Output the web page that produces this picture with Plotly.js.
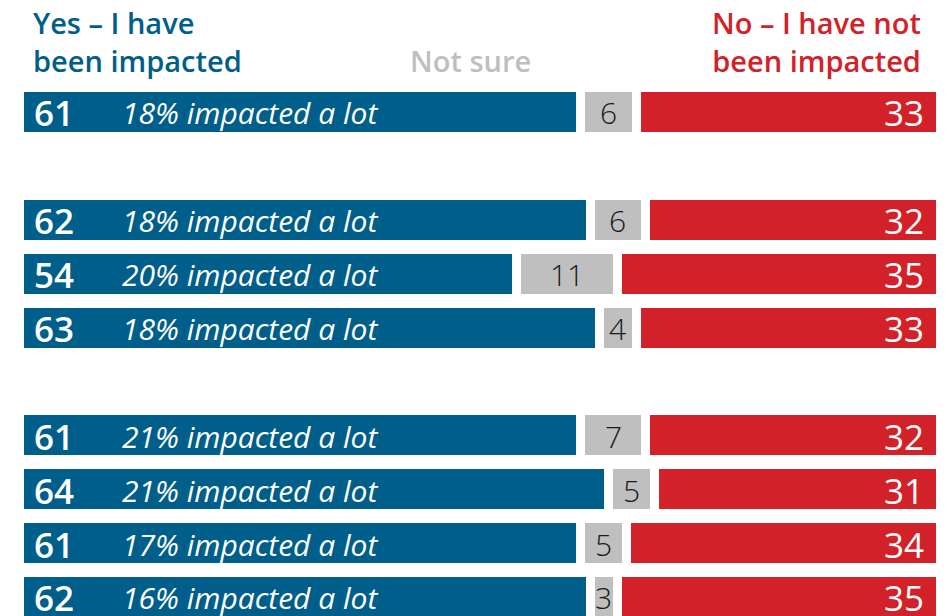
<!DOCTYPE html>
<html>
<head>
<meta charset="utf-8">
<script src="https://cdn.plot.ly/plotly-3.0.1.min.js"></script>
<style>html,body{margin:0;padding:0;background:#fff;}#chart{width:947px;height:616px;}</style>
</head>
<body>
<div id="chart"></div>
<script>
// Row positions (gaps between groups leave empty slots)
const rowPos = [0, 2, 3, 4, 6, 7, 8, 9];
const yesVals = [61, 62, 54, 63, 61, 64, 61, 62];
const notSureVals = [6, 6, 11, 4, 7, 5, 5, 3];
const noVals = [33, 32, 35, 33, 32, 31, 34, 35];
const aLotVals = [18, 18, 20, 18, 21, 21, 17, 16];

const BLUE = '#005e8a', GRAY = '#bfbfbf', RED = '#d32129';
const FONT = '"Open Sans", Lato, sans-serif';

const common = {type: 'bar', orientation: 'h', y: rowPos, width: 0.91,
  hoverinfo: 'skip', textposition: 'none'};

const traces = [
  Object.assign({}, common, {x: yesVals, name: 'Yes', marker: {color: BLUE, line: {color: '#fff', width: 9}}}),
  Object.assign({}, common, {x: notSureVals, name: 'Not sure', marker: {color: GRAY, line: {color: '#fff', width: 9}}}),
  Object.assign({}, common, {x: noVals, name: 'No', marker: {color: RED, line: {color: '#fff', width: 9}}})
];

const ann = [];
rowPos.forEach((r, i) => {
  ann.push({x: 0, y: r, xref: 'x', yref: 'y', xanchor: 'left', yanchor: 'middle', xshift: 13, yshift: -1,
    text: String(yesVals[i]), showarrow: false, font: {family: FONT, size: 35, color: '#fff', weight: 600}});
  ann.push({x: 0, y: r, xref: 'x', yref: 'y', xanchor: 'left', yanchor: 'middle', xshift: 101, yshift: -1,
    text: aLotVals[i] + '% impacted a lot', showarrow: false,
    font: {family: FONT, size: 30, color: '#fff', weight: 400, style: 'italic'}});
  ann.push({x: yesVals[i] + notSureVals[i] / 2, y: r, xref: 'x', yref: 'y', xanchor: 'center', yanchor: 'middle', yshift: -1,
    text: String(notSureVals[i]), showarrow: false, font: {family: FONT, size: 30, color: '#1a1a1a', weight: 300}});
  ann.push({x: 100, y: r, xref: 'x', yref: 'y', xanchor: 'right', yanchor: 'middle', xshift: -14, yshift: -1,
    text: String(noVals[i]), showarrow: false, font: {family: FONT, size: 35, color: '#fff', weight: 500}});
});

// Headers
ann.push({x: 0, y: 1, xref: 'paper', yref: 'paper', xanchor: 'left', yanchor: 'top', xshift: 12, yshift: -1,
  align: 'left', text: 'Yes – I have<br>been impacted', showarrow: false,
  font: {family: FONT, size: 29, color: BLUE, weight: 600}});
ann.push({x: 100, y: 1, xref: 'x', yref: 'paper', xanchor: 'right', yanchor: 'top', xshift: -17, yshift: -1,
  align: 'right', text: 'No – I have not<br>been impacted', showarrow: false,
  font: {family: FONT, size: 29, color: RED, weight: 600}});
ann.push({x: 0.49, y: 1, xref: 'paper', yref: 'paper', xanchor: 'center', yanchor: 'top', yshift: -39,
  text: 'Not sure', showarrow: false, font: {family: FONT, size: 29, color: GRAY, weight: 600}});

const layout = {
  width: 947, height: 616,
  margin: {l: 18.5, r: 6.5, t: 0, b: 0, pad: 0},
  barmode: 'stack', bargap: 0, showlegend: false,
  paper_bgcolor: '#fff', plot_bgcolor: '#fff',
  xaxis: {range: [0, 100], visible: false, fixedrange: true},
  yaxis: {range: [9.353, -2.078], visible: false, fixedrange: true},
  annotations: ann
};

Plotly.newPlot('chart', traces, layout, {staticPlot: true, displayModeBar: false});
</script>
</body>
</html>
